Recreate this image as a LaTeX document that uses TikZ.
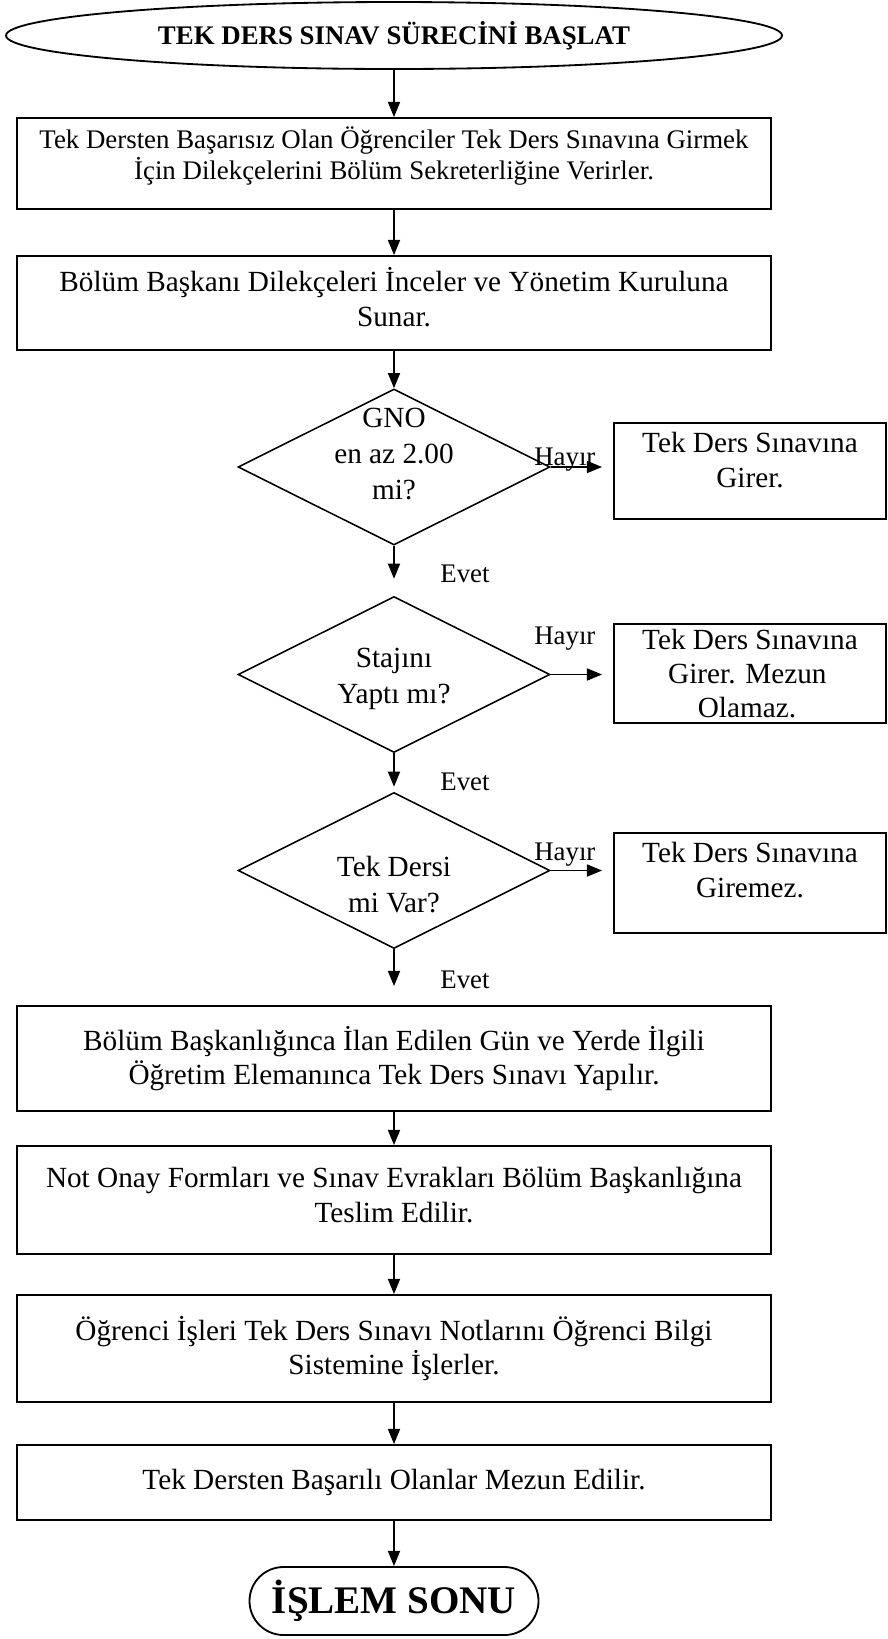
\documentclass[tikz,border=0pt]{standalone}
\usepackage{fontspec}
\setmainfont{Liberation Serif}
\usepackage{tikz}
\usetikzlibrary{
  shapes.geometric,
  arrows.meta,
  positioning
}
\newcommand{\onbir}{\fontsize{19.1}{22.4}\selectfont}
\newcommand{\oniki}{\fontsize{20.8}{24.5}\selectfont}
\newcommand{\onalti}{\fontsize{27.8}{32}\selectfont}

\begin{document}
\begin{tikzpicture}[
  box/.style={rectangle, draw=black, line width=1.3pt, minimum width=18.85cm, align=center, font=\oniki},
  sidebox/.style={rectangle, draw=black, line width=1.3pt, minimum width=6.8cm, align=center, font=\oniki},
  decision/.style={diamond, draw=black, line width=1.1pt, aspect=2, minimum width=7.8cm, minimum height=3.9cm, inner sep=0pt},
  dtext/.style={align=center, font=\fontsize{20.8}{25.6}\selectfont},
  arrow/.style={-{Triangle[length=3.8mm, width=3mm]}, line width=1.3pt},
  hayir/.style={font=\onbir, xshift=-0.29cm},
  evet/.style={font=\onbir, xshift=1.775cm, yshift=-0.3cm}
]
\useasboundingbox (0,0) rectangle (22.2,-40.975);

% Start
\node[ellipse, draw=black, line width=1.3pt, minimum width=19.4cm, minimum height=1.675cm, font=\onbir\bfseries] (start) at (9.85,-0.8875) {TEK DERS SINAV SÜRECİNİ BAŞLAT};

% Upper steps
\node[box, font=\onbir, minimum height=2.275cm, text depth=0.53cm] (dilekce) at (9.85,-4.0875) {Tek Dersten Başarısız Olan Öğrenciler Tek Ders Sınavına Girmek\\İçin Dilekçelerini Bölüm Sekreterliğine Verirler.};
\node[box, minimum height=2.35cm, text depth=0.3cm] (inceleme) at (9.85,-7.575) {Bölüm Başkanı Dilekçeleri İnceler ve Yönetim Kuruluna\\Sunar.};

% Decisions
\node[decision, label={[dtext, yshift=0.32cm]center:{GNO\\en az 2.00\\mi?}}] (gno) at (9.85,-11.675) {};
\node[decision, label={[dtext, yshift=-0.1cm]center:{Stajını\\Yaptı mı?}}] (staj) at (9.85,-16.8625) {};
\node[decision, label={[dtext, yshift=-0.34cm]center:{Tek Dersi\\mi Var?}}] (tekders) at (9.85,-21.7625) {};

% Side results
\node[sidebox, minimum height=2.4cm, text depth=0.55cm] (girer) at (18.75,-11.775) {Tek Ders Sınavına\\Girer.};
\node[sidebox, align=left, minimum height=2.475cm] (mezunolamaz) at (18.75,-16.8375) {Tek Ders Sınavına\\\hspace*{0.65cm}Girer. Mezun\\\hspace*{1.39cm}Olamaz.};
\node[sidebox, minimum height=2.5cm, text depth=0.65cm] (giremez) at (18.75,-22.075) {Tek Ders Sınavına\\Giremez.};

% Lower steps
\node[box, minimum height=2.625cm] (sinav) at (9.85,-26.4625) {Bölüm Başkanlığınca İlan Edilen Gün ve Yerde İlgili\\Öğretim Elemanınca Tek Ders Sınavı Yapılır.};
\node[box, minimum height=2.7cm, text depth=0.26cm] (teslim) at (9.85,-30.0) {Not Onay Formları ve Sınav Evrakları Bölüm Başkanlığına\\Teslim Edilir.};
\node[box, minimum height=2.675cm] (obs) at (9.85,-33.7125) {Öğrenci İşleri Tek Ders Sınavı Notlarını Öğrenci Bilgi\\Sistemine İşlerler.};
\node[box, minimum height=1.875cm] (mezun) at (9.85,-37.0625) {Tek Dersten Başarılı Olanlar Mezun Edilir.};

% End
\node[rectangle, draw=black, line width=1.3pt, rounded corners=0.85cm, minimum width=7.225cm, minimum height=1.7cm, font=\onalti\bfseries] (son) at (9.85,-40.025) {İŞLEM SONU};

% Arrows
\draw[arrow] (start) -- (dilekce);
\draw[arrow] (dilekce) -- (inceleme);
\draw[arrow] (inceleme) -- (gno);
\draw[arrow] (gno.east) -- node[hayir, yshift=0.175cm]{Hayır} ([xshift=-0.275cm]gno.east -| girer.west);
\draw[arrow] (gno.south) -- node[evet]{Evet} ([yshift=0.425cm]staj.north);
\draw[arrow] (staj.east) -- node[hayir, yshift=0.89cm]{Hayır} ([xshift=-0.275cm]staj.east -| mezunolamaz.west);
\draw[arrow] (staj.south) -- node[evet]{Evet} ([yshift=0.125cm]tekders.north);
\draw[arrow] (tekders.east) -- node[hayir, yshift=0.39cm]{Hayır} ([xshift=-0.275cm]tekders.east -| giremez.west);
\draw[arrow] (tekders.south) -- node[evet]{Evet} ([yshift=0.475cm]sinav.north);
\draw[arrow] (sinav) -- (teslim);
\draw[arrow] (teslim) -- (obs);
\draw[arrow] (obs) -- (mezun);
\draw[arrow] (mezun) -- (son);

\end{tikzpicture}
\end{document}
